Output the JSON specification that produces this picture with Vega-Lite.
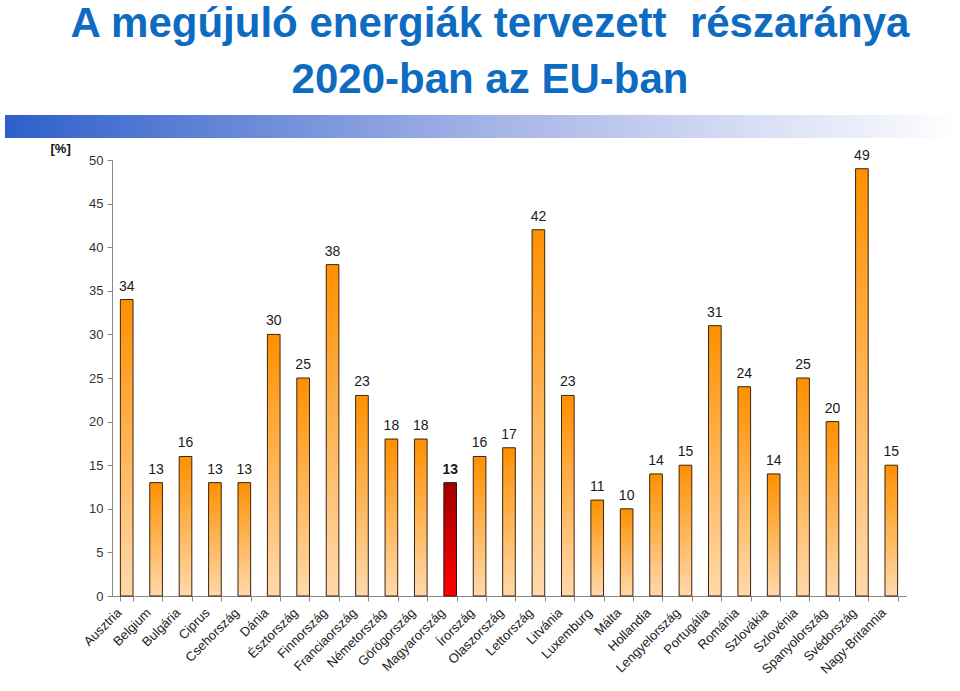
{
  "$schema": "https://vega.github.io/schema/vega-lite/v6.json",
  "width": 794,
  "height": 436,
  "autosize": {"type": "none"},
  "padding": {"left": 112, "top": 160, "right": 54, "bottom": 95},
  "background": "white",
  "title": {
    "text": ["A megújuló energiák tervezett\u00a0 részaránya", "2020-ban az EU-ban"],
    "font": "Liberation Sans",
    "fontSize": 42,
    "fontWeight": "bold",
    "color": "#0E6BC2",
    "lineHeight": 56,
    "anchor": "middle",
    "offset": 13,
    "dx": -19
  },
  "config": {
    "view": {"stroke": null},
    "font": "Liberation Sans"
  },
  "data": {
    "values": [
      {"country": "Ausztria", "value": 34},
      {"country": "Belgium", "value": 13},
      {"country": "Bulgária", "value": 16},
      {"country": "Ciprus", "value": 13},
      {"country": "Csehország", "value": 13},
      {"country": "Dánia", "value": 30},
      {"country": "Észtország", "value": 25},
      {"country": "Finnország", "value": 38},
      {"country": "Franciaország", "value": 23},
      {"country": "Németország", "value": 18},
      {"country": "Görögország", "value": 18},
      {"country": "Magyarország", "value": 13},
      {"country": "Írország", "value": 16},
      {"country": "Olaszország", "value": 17},
      {"country": "Lettország", "value": 42},
      {"country": "Litvánia", "value": 23},
      {"country": "Luxemburg", "value": 11},
      {"country": "Málta", "value": 10},
      {"country": "Hollandia", "value": 14},
      {"country": "Lengyelország", "value": 15},
      {"country": "Portugália", "value": 31},
      {"country": "Románia", "value": 24},
      {"country": "Szlovákia", "value": 14},
      {"country": "Szlovénia", "value": 25},
      {"country": "Spanyolország", "value": 20},
      {"country": "Svédország", "value": 49},
      {"country": "Nagy-Britannia", "value": 15}
    ]
  },
  "layer": [
    {
      "data": {"values": [{"x0": -0.1348, "x1": 1.068, "y0": 52.52, "y1": 55.16}]},
      "mark": {
        "type": "rect",
        "clip": false,
        "fill": {
          "gradient": "linear",
          "x1": 0, "y1": 0, "x2": 1, "y2": 0,
          "stops": [
            {"offset": 0, "color": "#2E60CA"},
            {"offset": 0.5, "color": "#A3B2E6"},
            {"offset": 1, "color": "#FFFFFF"}
          ]
        }
      },
      "encoding": {
        "x": {"field": "x0", "type": "quantitative", "scale": {"domain": [0, 1], "nice": false, "zero": false}, "axis": null},
        "x2": {"field": "x1"},
        "y": {"field": "y0", "type": "quantitative", "scale": {"domain": [0, 50], "nice": false, "zero": false}, "axis": null},
        "y2": {"field": "y1"}
      }
    },
    {
      "layer": [
        {
          "transform": [{"filter": "datum.country !== 'Magyarország'"}],
          "mark": {
            "type": "bar",
            "stroke": "#3A2410",
            "strokeWidth": 1,
            "fill": {
              "gradient": "linear",
              "x1": 0, "y1": 0, "x2": 0, "y2": 1,
              "stops": [
                {"offset": 0, "color": "#FF9000"},
                {"offset": 1, "color": "#FFD9AC"}
              ]
            }
          },
          "encoding": {
            "x": {"field": "country", "type": "nominal", "sort": null},
            "y": {"field": "value", "type": "quantitative"}
          }
        },
        {
          "transform": [{"filter": "datum.country === 'Magyarország'"}],
          "mark": {
            "type": "bar",
            "stroke": "#3A1010",
            "strokeWidth": 1,
            "fill": {
              "gradient": "linear",
              "x1": 0, "y1": 0, "x2": 0, "y2": 1,
              "stops": [
                {"offset": 0, "color": "#A00000"},
                {"offset": 1, "color": "#FF0000"}
              ]
            }
          },
          "encoding": {
            "x": {"field": "country", "type": "nominal", "sort": null},
            "y": {"field": "value", "type": "quantitative"}
          }
        },
        {
          "transform": [{"filter": "datum.country !== 'Magyarország'"}],
          "mark": {"type": "text", "baseline": "bottom", "dy": -6, "fontSize": 14, "color": "#1A1A1A"},
          "encoding": {
            "x": {"field": "country", "type": "nominal", "sort": null},
            "y": {"field": "value", "type": "quantitative"},
            "text": {"field": "value", "type": "quantitative"}
          }
        },
        {
          "transform": [{"filter": "datum.country === 'Magyarország'"}],
          "mark": {"type": "text", "baseline": "bottom", "dy": -6, "fontSize": 14, "fontWeight": "bold", "color": "#1A1A1A"},
          "encoding": {
            "x": {"field": "country", "type": "nominal", "sort": null},
            "y": {"field": "value", "type": "quantitative"},
            "text": {"field": "value", "type": "quantitative"}
          }
        }
      ],
      "encoding": {
        "x": {
          "field": "country",
          "type": "nominal",
          "sort": null,
          "scale": {
            "domain": ["Ausztria", "Belgium", "Bulgária", "Ciprus", "Csehország", "Dánia", "Észtország", "Finnország", "Franciaország", "Németország", "Görögország", "Magyarország", "Írország", "Olaszország", "Lettország", "Litvánia", "Luxemburg", "Málta", "Hollandia", "Lengyelország", "Portugália", "Románia", "Szlovákia", "Szlovénia", "Spanyolország", "Svédország", "Nagy-Britannia"],
            "paddingInner": 0.57,
            "paddingOuter": 0.285
          },
          "axis": {
            "title": null,
            "labelAngle": -45,
            "labelFontSize": 13,
            "labelColor": "#222222",
            "tickBand": "extent",
            "domainColor": "#888888",
            "tickColor": "#888888",
            "tickSize": 5,
            "labelPadding": 5,
            "labelOffset": -12
          }
        },
        "y": {
          "field": "value",
          "type": "quantitative",
          "scale": {"domain": [0, 50], "nice": false},
          "axis": {
            "values": [0, 5, 10, 15, 20, 25, 30, 35, 40, 45, 50],
            "grid": false,
            "domainColor": "#888888",
            "tickColor": "#888888",
            "tickSize": 5,
            "labelFontSize": 13,
            "labelColor": "#333333",
            "labelPadding": 4,
            "title": "[%]",
            "titleAngle": 0,
            "titleFontSize": 13,
            "titleFontWeight": "bold",
            "titleColor": "#111111",
            "titleAlign": "left",
            "titleBaseline": "bottom",
            "titleX": -62,
            "titleY": -5
          }
        }
      }
    }
  ],
  "resolve": {"scale": {"x": "independent", "y": "independent"}}
}
